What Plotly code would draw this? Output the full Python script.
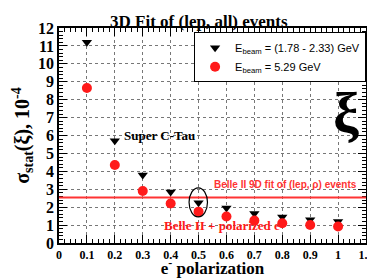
import plotly.graph_objects as go

polarization = [0.1, 0.2, 0.3, 0.4, 0.5, 0.6, 0.7, 0.8, 0.9, 1.0]
sigma_low = [11.2, 5.7, 3.8, 2.85, 2.25, 1.95, 1.65, 1.45, 1.3, 1.2]
sigma_529 = [8.65, 4.35, 2.9, 2.2, 1.75, 1.48, 1.25, 1.1, 1.0, 0.92]
belle9d_level = 2.54
x_ticks = [0, 0.1, 0.2, 0.3, 0.4, 0.5, 0.6, 0.7, 0.8, 0.9, 1, 1.1]
x_tick_labels = ["0", "0.1", "0.2", "0.3", "0.4", "0.5", "0.6", "0.7", "0.8", "0.9", "1", "1.1"]
y_ticks = list(range(0, 13))
y_tick_labels = [str(v) for v in y_ticks]

serif = "Liberation Serif"
sans = "Liberation Sans"

fig = go.Figure()
fig.add_trace(go.Scatter(
    x=polarization, y=sigma_low, mode="markers",
    name="E<sub>beam</sub> = (1.78 - 2.33) GeV",
    marker=dict(symbol="triangle-down", color="black", size=9),
))
fig.add_trace(go.Scatter(
    x=polarization, y=sigma_529, mode="markers",
    name="E<sub>beam</sub> = 5.29 GeV",
    marker=dict(symbol="circle", color="#ff1a1a", size=10),
))

fig.add_shape(type="line", xref="paper", x0=0, x1=1, yref="y",
              y0=belle9d_level, y1=belle9d_level,
              line=dict(color="#ff3333", width=2))
fig.add_shape(type="circle", xref="x", yref="y",
              x0=0.466, x1=0.532, y0=1.46, y1=3.08,
              line=dict(color="black", width=1.2))

fig.add_annotation(x=0.225, y=6.0, text="<b>Super C-Tau</b>", showarrow=False,
                   xanchor="left", yanchor="middle",
                   font=dict(family=serif, size=13, color="black"))
fig.add_annotation(x=0.548, y=3.25, text="<b>Belle II 9D fit of (lep, ρ) events</b>",
                   showarrow=False, xanchor="left", yanchor="middle",
                   font=dict(family=sans, size=10, color="#ff3333"))
fig.add_annotation(x=0.37, y=0.98, text="<b>Belle II + polarized e-</b>",
                   showarrow=False, xanchor="left", yanchor="middle",
                   font=dict(family=serif, size=13, color="#ff1a1a"))
fig.add_annotation(x=1.03, y=7.3, text="<b>ξ</b>", showarrow=False,
                   xanchor="center", yanchor="middle",
                   font=dict(family=serif, size=58, color="black"))

axis_common = dict(
    showline=True, linecolor="black", linewidth=1.5, mirror="ticks",
    ticks="inside", ticklen=8, tickwidth=1, tickcolor="black",
    showgrid=True, gridcolor="#777777", griddash="dot", gridwidth=1,
    zeroline=False,
)

# page body has an 8px default margin, so the figure is sized 8px smaller
fig.update_layout(
    width=367, height=270,
    margin=dict(l=51, r=9, t=20, b=35),
    paper_bgcolor="white", plot_bgcolor="white",
    title=dict(text="<b>3D Fit of (lep, all) events</b>", x=0.52, xanchor="center",
               y=0.975, yanchor="top",
               font=dict(family=serif, size=17, color="black")),
    xaxis=dict(range=[0, 1.1], tickvals=x_ticks,
               ticktext=["<b>" + t + "</b>" for t in x_tick_labels],
               tickfont=dict(family=serif, size=12, color="black"),
               title=dict(text="<b>e<sup>-</sup> polarization</b>", standoff=7,
                          font=dict(family=serif, size=17, color="black")),
               minor=dict(dtick=0.02, ticks="inside", ticklen=4, tickcolor="black", showgrid=False),
               automargin=False,
               **axis_common),
    yaxis=dict(range=[0, 12], tickvals=y_ticks,
               ticktext=["<b>" + t + "</b>" for t in y_tick_labels],
               tickfont=dict(family=serif, size=16, color="black"),
               title=dict(text="<b>σ<sub>stat</sub>(ξ), 10<sup>-4</sup></b>", standoff=3,
                          font=dict(family=serif, size=20, color="black")),
               minor=dict(dtick=0.2, ticks="inside", ticklen=4, tickcolor="black", showgrid=False),
               automargin=False,
               **axis_common),
    legend=dict(x=0.44, y=0.98, xanchor="left", yanchor="top",
                bordercolor="black", borderwidth=1, bgcolor="white",
                font=dict(family=sans, size=11, color="black"),
                tracegroupgap=0, itemwidth=30),
    showlegend=True,
)

fig.write_html("out.html")
